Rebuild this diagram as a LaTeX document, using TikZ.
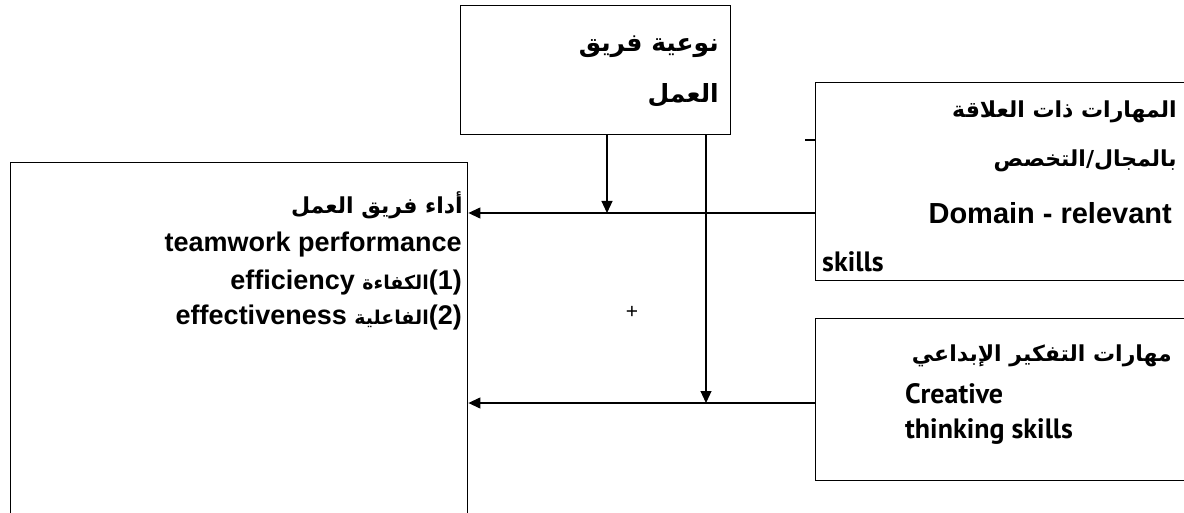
\documentclass[tikz,border=0pt]{standalone}
\usepackage{fontspec}
\setmainfont{Liberation Sans}
\newfontfamily\arabicfont[Script=Arabic]{DejaVu Sans}
\newfontfamily\narrowfont{PT Sans}
\TeXXeTstate=1
\usetikzlibrary{arrows.meta}
\newcommand{\arinline}[1]{{\arabicfont\fontsize{19}{19}\selectfont\bfseries\beginR #1\endR}}
\tikzset{
  box/.style={draw, line width=1.4pt, rectangle, inner sep=0pt, anchor=north west},
  conn/.style={line width=1.2pt},
  arr/.style={conn, -{Triangle[length=12pt,width=11pt]}},
  en/.style={font=\fontsize{27}{27}\selectfont\bfseries, inner sep=0pt},
  enlarge/.style={font=\fontsize{29}{29}\selectfont\bfseries, inner sep=0pt},
  ar/.style={font=\fontsize{22}{22}\selectfont\arabicfont\bfseries, inner sep=0pt},
  arbig/.style={font=\fontsize{25}{25}\selectfont\arabicfont\bfseries, inner sep=0pt},
  nar/.style={font=\fontsize{28}{28}\selectfont\narrowfont\bfseries, inner sep=0pt},
}
\begin{document}
\begin{tikzpicture}[x=1pt,y=-1pt]
\useasboundingbox (0,0) rectangle (1184,513);
\clip (0,0) rectangle (1184,513);

% boxes
\node[box, minimum width=457pt, minimum height=380pt] (perf) at (10,162) {};
\node[box, minimum width=270pt, minimum height=129pt] (type) at (460,5) {};
\node[box, minimum width=400pt, minimum height=198pt] (domain) at (815,82) {};
\node[box, minimum width=400pt, minimum height=162pt] (creative) at (815,318) {};

% team performance
\node[ar, anchor=east] (p1) at (463,205) {\beginR أداء فريق العمل\endR};
\node[en, anchor=east] (p2) at (462,245) {teamwork performance};
\node[en, anchor=east] (p3) at (462,283) {efficiency \arinline{الكفاءة}(1)};
\node[en, anchor=east] (p4) at (462,318) {effectiveness \arinline{الفاعلية}(2)};

% team type
\node[arbig, anchor=east] (t1) at (719,47) {\beginR نوعية فريق\endR};
\node[arbig, anchor=east] (t2) at (719,95) {\beginR العمل\endR};

% domain-relevant skills
\node[ar, anchor=east] (d1) at (1177,112) {\beginR المهارات ذات العلاقة\endR};
\node[ar, anchor=east] (d2) at (1177,161) {\beginR بالمجال/التخصص\endR};
\node[enlarge, anchor=east] (d3) at (1172,213) {Domain\hspace{8pt}-\hspace{8pt}relevant};
\node[nar, anchor=west] (d4) at (822,262) {skills};

% creative thinking skills
\node[ar, anchor=east] (c1) at (1172,356) {\beginR مهارات التفكير الإبداعي\endR};
\node[nar, anchor=west] (c2) at (905,394) {Creative};
\node[nar, anchor=west] (c3) at (905,432) {thinking skills};

% junctions on the two input lines
\coordinate (j1) at (607,213);
\coordinate (j2) at (706,403);
\coordinate (tk) at (805,140);

% connectors
\draw[arr] (domain.west |- j1) -- (perf.east |- j1);
\draw[arr] (creative.west |- j2) -- (perf.east |- j2);
\draw[arr] (type.south -| j1) -- (j1);
\draw[arr] (type.south -| j2) -- (j2);
\draw[conn] (tk) -- (domain.west |- tk);

\node[font=\fontsize{21}{21}\selectfont, inner sep=0pt] (plus) at (632,312) {+};
\end{tikzpicture}
\end{document}
